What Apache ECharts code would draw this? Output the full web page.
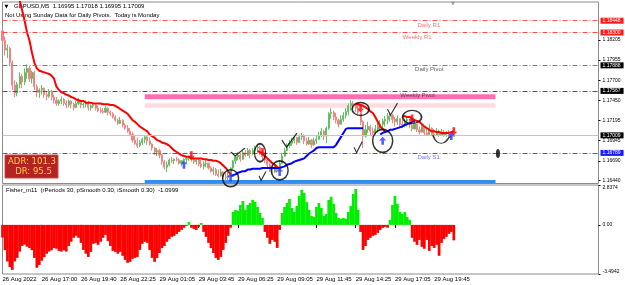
<!DOCTYPE html>
<html><head><meta charset="utf-8">
<script src="https://cdn.jsdelivr.net/npm/echarts@6/dist/echarts.min.js"></script>
<style>html,body{margin:0;padding:0;background:#fff}#c{width:625px;height:285px}</style>
</head><body><div id="c"></div>
<script>
// ---------------- DATA ----------------
const tickLabels = ["26 Aug 2022","26 Aug 17:00","26 Aug 19:40","28 Aug 22:25","29 Aug 01:05","29 Aug 03:45","29 Aug 06:25","29 Aug 09:05","29 Aug 11:45","29 Aug 14:25","29 Aug 17:05","29 Aug 19:45"];
const barsPerTick = 16;
const slotCount = 244;
const categories = Array.from({length: slotCount}, (_, i) => i);
const symbolName = "GBPUSD,M5";
const ohlcNow = [1.16995, 1.17018, 1.16995, 1.17009];
const pivotNote = "Not Using Sunday Data for Daily Pivots.  Today is Monday";
const fisherName = "Fisher_m11  (rPeriods 30, pSmooth 0.30, iSmooth 0.30)";
const fisherLast = -1.0999;
const adrValue = 101.3;
const drValue = 95.5;

// [open, close, low, high]
const candles = [
[1.1832,1.1820,1.1815,1.1835],[1.1820,1.1808,1.1801,1.1825],[1.1808,1.1810,1.1798,1.1815],[1.1810,1.1792,1.1788,1.1812],[1.1792,1.1764,1.1758,1.1795],
[1.1764,1.1754,1.1749,1.1770],[1.1754,1.1765,1.1750,1.1768],[1.1765,1.1775,1.1760,1.1780],[1.1775,1.1768,1.1760,1.1778],[1.1768,1.1780,1.1764,1.1785],
[1.1780,1.1785,1.1772,1.1790],[1.1785,1.1772,1.1768,1.1788],[1.1772,1.1780,1.1766,1.1782],[1.1780,1.1762,1.1758,1.1782],[1.1762,1.1755,1.1749,1.1765],
[1.1755,1.1758,1.1748,1.1760],[1.1758,1.1760,1.1752,1.1764],[1.1760,1.1752,1.1748,1.1761],[1.1752,1.1750,1.1745,1.1756],[1.1750,1.1756,1.1748,1.1759],
[1.1756,1.1749,1.1745,1.1758],[1.1749,1.1745,1.1741,1.1752],[1.1745,1.1741,1.1738,1.1749],[1.1741,1.1744,1.1738,1.1746],[1.1744,1.1746,1.1740,1.1750],
[1.1746,1.1741,1.1738,1.1748],[1.1741,1.1739,1.1735,1.1745],[1.1739,1.1744,1.1736,1.1746],[1.1744,1.1740,1.1735,1.1745],[1.1740,1.1736,1.1732,1.1742],
[1.1736,1.1741,1.1735,1.1744],[1.1741,1.1744,1.1739,1.1748],[1.1744,1.1739,1.1735,1.1745],[1.1739,1.1740,1.1735,1.1742],[1.1740,1.1742,1.1736,1.1745],
[1.1742,1.1736,1.1732,1.1744],[1.1736,1.1738,1.1732,1.1740],[1.1738,1.1739,1.1735,1.1741],[1.1739,1.1735,1.1732,1.1740],[1.1735,1.1732,1.1730,1.1738],
[1.1732,1.1731,1.1729,1.1736],[1.1731,1.1730,1.1728,1.1735],[1.1730,1.1735,1.1729,1.1738],[1.1735,1.1730,1.1726,1.1736],[1.1730,1.1728,1.1725,1.1732],
[1.1728,1.1724,1.1722,1.1730],[1.1724,1.1720,1.1718,1.1726],[1.1720,1.1716,1.1714,1.1722],[1.1716,1.1720,1.1715,1.1724],[1.1720,1.1714,1.1711,1.1721],
[1.1714,1.1710,1.1708,1.1716],[1.1710,1.1706,1.1704,1.1714],[1.1706,1.1702,1.1700,1.1710],[1.1702,1.1695,1.1692,1.1705],[1.1695,1.1691,1.1689,1.1701],
[1.1691,1.1688,1.1685,1.1698],[1.1688,1.1692,1.1686,1.1695],[1.1692,1.1696,1.1689,1.1698],[1.1696,1.1699,1.1691,1.1700],[1.1699,1.1694,1.1689,1.1700],
[1.1694,1.1690,1.1688,1.1698],[1.1690,1.1685,1.1682,1.1691],[1.1685,1.1680,1.1676,1.1686],[1.1680,1.1682,1.1675,1.1685],[1.1682,1.1676,1.1672,1.1684],
[1.1676,1.1668,1.1664,1.1678],[1.1668,1.1661,1.1658,1.1670],[1.1661,1.1664,1.1655,1.1668],[1.1664,1.1670,1.1662,1.1672],[1.1670,1.1669,1.1666,1.1674],
[1.1669,1.1671,1.1665,1.1672],[1.1671,1.1670,1.1668,1.1674],[1.1670,1.1666,1.1664,1.1672],[1.1666,1.1669,1.1662,1.1670],[1.1669,1.1671,1.1665,1.1672],
[1.1671,1.1672,1.1666,1.1674],[1.1672,1.1674,1.1669,1.1675],[1.1674,1.1670,1.1668,1.1676],[1.1670,1.1668,1.1665,1.1674],[1.1668,1.1670,1.1664,1.1672],
[1.1670,1.1665,1.1662,1.1672],[1.1665,1.1662,1.1660,1.1670],[1.1662,1.1665,1.1658,1.1668],[1.1665,1.1666,1.1661,1.1670],[1.1666,1.1660,1.1658,1.1666],
[1.1660,1.1656,1.1654,1.1662],[1.1656,1.1658,1.1651,1.1661],[1.1658,1.1652,1.1650,1.1660],[1.1652,1.1650,1.1648,1.1658],[1.1650,1.1655,1.1649,1.1659],
[1.1655,1.1649,1.1646,1.1656],[1.1649,1.1648,1.1644,1.1654],[1.1648,1.1651,1.1645,1.1655],[1.1651,1.1660,1.1650,1.1661],[1.1660,1.1669,1.1658,1.1670],
[1.1669,1.1674,1.1665,1.1676],[1.1674,1.1676,1.1670,1.1680],[1.1676,1.1671,1.1668,1.1678],[1.1671,1.1679,1.1670,1.1682],[1.1679,1.1676,1.1674,1.1682],
[1.1676,1.1682,1.1675,1.1685],[1.1682,1.1678,1.1672,1.1684],[1.1678,1.1682,1.1676,1.1685],[1.1682,1.1685,1.1678,1.1688],[1.1685,1.1686,1.1680,1.1689],
[1.1686,1.1680,1.1676,1.1688],[1.1680,1.1674,1.1670,1.1682],[1.1674,1.1670,1.1666,1.1676],[1.1670,1.1664,1.1661,1.1672],[1.1664,1.1659,1.1655,1.1666],
[1.1659,1.1655,1.1651,1.1662],[1.1655,1.1662,1.1654,1.1666],[1.1662,1.1658,1.1654,1.1664],[1.1658,1.1666,1.1656,1.1670],[1.1666,1.1675,1.1665,1.1679],
[1.1675,1.1682,1.1674,1.1685],[1.1682,1.1688,1.1681,1.1691],[1.1688,1.1691,1.1685,1.1695],[1.1691,1.1694,1.1688,1.1698],[1.1694,1.1698,1.1691,1.1701],
[1.1698,1.1692,1.1689,1.1699],[1.1692,1.1699,1.1691,1.1702],[1.1699,1.1701,1.1695,1.1704],[1.1701,1.1694,1.1690,1.1702],[1.1694,1.1690,1.1688,1.1698],
[1.1690,1.1695,1.1689,1.1699],[1.1695,1.1689,1.1685,1.1696],[1.1689,1.1694,1.1688,1.1698],[1.1694,1.1696,1.1690,1.1700],[1.1696,1.1701,1.1695,1.1705],
[1.1701,1.1706,1.1699,1.1710],[1.1706,1.1700,1.1695,1.1708],[1.1700,1.1710,1.1691,1.1712],[1.1710,1.1728,1.1708,1.1730],[1.1728,1.1730,1.1722,1.1735],
[1.1730,1.1724,1.1720,1.1732],[1.1724,1.1720,1.1716,1.1729],[1.1720,1.1715,1.1711,1.1722],[1.1715,1.1721,1.1714,1.1726],[1.1721,1.1726,1.1718,1.1730],
[1.1726,1.1731,1.1722,1.1735],[1.1731,1.1738,1.1726,1.1741],[1.1738,1.1741,1.1732,1.1745],[1.1741,1.1739,1.1734,1.1744],[1.1739,1.1735,1.1730,1.1741],
[1.1735,1.1730,1.1726,1.1739],[1.1730,1.1718,1.1714,1.1732],[1.1718,1.1700,1.1685,1.1720],[1.1700,1.1708,1.1698,1.1714],[1.1708,1.1712,1.1704,1.1718],
[1.1712,1.1706,1.1701,1.1714],[1.1706,1.1704,1.1699,1.1711],[1.1704,1.1709,1.1702,1.1714],[1.1709,1.1712,1.1705,1.1718],[1.1712,1.1715,1.1708,1.1720],
[1.1715,1.1719,1.1710,1.1722],[1.1719,1.1721,1.1712,1.1725],[1.1721,1.1725,1.1715,1.1729],[1.1725,1.1726,1.1718,1.1730],[1.1726,1.1721,1.1716,1.1728],
[1.1721,1.1718,1.1712,1.1724],[1.1718,1.1722,1.1714,1.1726],[1.1722,1.1715,1.1711,1.1722],[1.1715,1.1714,1.1710,1.1720],[1.1714,1.1719,1.1711,1.1722],
[1.1719,1.1721,1.1712,1.1725],[1.1721,1.1714,1.1710,1.1721],[1.1714,1.1709,1.1706,1.1718],[1.1709,1.1715,1.1708,1.1720],[1.1715,1.1708,1.1705,1.1715],
[1.1708,1.1705,1.1702,1.1712],[1.1705,1.1712,1.1704,1.1716],[1.1712,1.1704,1.1701,1.1712],[1.1704,1.1702,1.1700,1.1710],[1.1702,1.1710,1.1701,1.1715],
[1.1710,1.1702,1.1700,1.1711],[1.1702,1.1701,1.1699,1.1709],[1.1701,1.1706,1.1700,1.1710],[1.1706,1.1701,1.1699,1.1708],[1.1701,1.1705,1.1700,1.1709],
[1.1705,1.1701,1.1699,1.1708],[1.1701,1.1702,1.1699,1.1706],[1.1702,1.1700,1.1699,1.1708],[1.1700,1.16995,1.1698,1.1703],[1.16995,1.17009,1.16995,1.17018]
];

// trend line, red (falling) and blue (rising) parts: [barIndex, price]
const redLine = [
[6,1.1885],[7,1.1870],[8,1.1858],[9,1.1845],[10,1.1830],[11,1.1820],[12,1.1805],[13,1.1792],[14,1.1785],[15,1.1782],
[16,1.1781],[17,1.1780],[18,1.1779],[19,1.1778],[20,1.1776],[21,1.1772],[22,1.1762],[23,1.1758],[24,1.1755],[25,1.1754],
[26,1.1752],[27,1.1751],[28,1.1749],[29,1.1748],[30,1.1746],[31,1.1745],[32,1.1744],[33,1.1744],[34,1.1742],[35,1.1742],
[36,1.1742],[37,1.1741],[38,1.1741],[39,1.1741],[40,1.1741],[41,1.1740],[42,1.1740],[43,1.1740],[44,1.1739],[45,1.1739],
[46,1.1738],[47,1.1736],[48,1.1734],[49,1.1732],[50,1.1730],[51,1.1728],[52,1.1724],[53,1.1720],[54,1.1718],[55,1.1715],
[56,1.1712],[57,1.1710],[58,1.1708],[59,1.1706],[60,1.1702],[61,1.1700],[62,1.1698],[63,1.1695],[64,1.1694],[65,1.1692],
[66,1.1691],[67,1.1690],[68,1.1688],[69,1.1685],[70,1.1682],[71,1.1680],[72,1.1678],[73,1.1676],[74,1.1675],[75,1.1674],
[76,1.1674],[77,1.1672],[78,1.1672],[79,1.1672],[80,1.1672],[81,1.1672],[82,1.1671],[83,1.1671],[84,1.1670],[85,1.1670],
[86,1.1669],[87,1.1669],[88,1.1668],[89,1.1666],[90,1.1663],[91,1.1660],[92,1.1656],[93,1.1652],[94,null],
[104,1.1681],[105,1.1680],[106,1.1678],[107,1.1675],[108,1.1672],[109,1.1669],[110,1.1666],[111,1.1664],[112,1.1661],[113,1.1660],[114,null],
[144,1.1740],[145,1.1740],[146,1.1739],[147,1.1738],[148,1.1736],[149,1.1734],[150,1.1731],[151,1.1729],[152,1.1724],[153,1.1718],
[154,1.1712],[155,1.1709],[156,1.1705],[157,null],
[163,1.1725],[164,1.1725],[165,1.1724],[166,1.1724],[167,1.1722],[168,1.1720],[169,1.1719],[170,1.1718],[171,1.1715],[172,1.1712],
[173,1.1710],[174,1.1708],[175,1.1706],[176,1.1706],[177,1.1705],[178,1.1705],[179,1.1704],[180,1.1704],[181,1.1704],[182,1.1704],
[183,1.1705],[184,1.1706]
];
const blueLine = [
[93,1.1650],[94,1.1651],[95,1.1652],[96,1.1654],[97,1.1655],[98,1.1656],[99,1.1656],[100,1.1658],[101,1.1658],[102,1.1659],
[103,1.1659],[104,1.1659],[105,1.1659],[106,1.1660],[107,1.1660],[108,1.1660],[109,1.1660],[110,1.1660],[111,1.1660],[112,1.1660],
[113,1.1660],[114,1.1661],[115,1.1662],[116,1.1664],[117,1.1665],[118,1.1666],[119,1.1668],[120,1.1669],[121,1.1670],[122,1.1671],
[123,1.1672],[124,1.1675],[125,1.1678],[126,1.1680],[127,1.1682],[128,1.1685],[129,1.1686],[130,1.1686],[131,1.1686],[132,1.1686],
[133,1.1686],[134,1.1686],[135,1.1686],[136,1.1689],[137,1.1694],[138,1.1699],[139,1.1704],[140,1.1709],[141,1.1710],[142,1.1710],
[143,1.1710],[144,1.1710],[145,1.1710],[146,1.1710],[147,1.1710],[148,null],
[154,1.1702],[155,1.1704],[156,1.1705],[157,1.1706],[158,1.1708],[159,1.1708],[160,1.1709],[161,1.1710],[162,1.1711],[163,1.1712],
[164,1.1714],[165,1.1715],[166,1.1716],[167,1.1718],[168,1.1719]
];

const fisher = [
-0.9,-1.8,-2.6,-3.0,-3.2,-2.6,-2.35,-1.9,-1.5,-1.4,
-1.55,-1.65,-1.8,-2.35,-3.05,-2.85,-2.55,-2.3,-2.05,-1.9,
-1.8,-1.65,-1.7,-1.85,-1.9,-1.8,-1.9,-1.5,-1.2,-0.92,
-0.78,-0.92,-1.28,-1.78,-2.05,-2.28,-1.92,-1.35,-1.28,-1.42,
-1.2,-0.92,-0.71,-1.14,-1.5,-1.85,-1.92,-2.05,-1.92,-2.2,
-2.49,-2.7,-2.63,-2.42,-2.35,-2.28,-1.78,-1.35,-1.2,-1.28,
-1.78,-2.35,-2.63,-2.35,-2.0,-1.65,-1.5,-1.2,-1.0,-0.85,
-0.78,-0.64,-0.5,-0.36,-0.2,-0.07,0.2,-0.2,-0.28,-0.36,
-0.14,0.14,-0.5,-0.85,-1.28,-1.65,-2.0,-2.35,-2.49,-2.28,
-1.78,-1.28,-0.78,-0.2,0.92,1.07,1.0,1.42,1.7,1.07,
1.42,1.56,1.78,1.64,1.28,0.85,0.5,-0.5,-0.92,-1.35,
-1.07,-1.2,-1.64,-0.36,0.85,1.28,1.56,1.85,1.2,0.92,
1.35,2.06,2.49,2.28,1.64,1.07,0.64,0.57,1.28,1.56,
1.2,0.64,0.78,1.78,2.0,1.5,0.85,0.5,0.43,0.5,
0.43,0.92,1.35,2.2,2.56,1.07,-0.5,-1.78,-1.5,-1.07,
-0.92,-0.78,-0.71,-0.57,-0.36,-0.21,-0.14,-0.2,0.36,1.42,
2.06,1.5,0.92,0.78,0.92,0.57,0.36,-0.92,-1.2,-1.42,
-1.07,-1.56,-1.7,-1.07,-1.85,-1.5,-1.64,-1.42,-2.2,-1.28,
-1.0,-0.85,-0.64,-0.5,-1.0999
];

const upArrows = [[74,1.1664],[93,1.1648],[113,1.1655],[155,1.1694],[183,1.1700]];
const downArrows = [[77,1.1676],[106,1.1680],[146,1.1735],[167,1.1722],[184,1.1706]];
const circleMarks = [[93,1.1647],[105,1.1679],[113,1.1657],[146,1.1734],[155,1.1694],[167,1.1724]];
const checkMarks = [[96,1.1680],[106,1.1650],[117,1.1695],[145,1.1686],[159,1.1734],[179,1.1696]];
const dotMark = [[202,1.1678]];

const levelNames = ["Daily R1","Weekly R1","Daily Pivot","Weekly Pivot","Daily S1"];
const levelValues = [1.18448, 1.18300, 1.17888, 1.17567, 1.16789];
const levelLabelAt = [169, 163, 168, 162, 169];
const currentPrice = 1.17009;
const zoneFrom = 58, zoneTo = 201;
const zoneBands = [[1.17525, 1.17463], [1.17413, 1.17356], [1.16450, 1.16405]];
const priceTicks = [1.18205, 1.17955, 1.17700, 1.17450, 1.17195, 1.16945, 1.16690, 1.16440];
const fisherTicks = [-3.4942, 0, 2.8374];
const priceMin = 1.16405, priceMax = 1.18683;

// ---------------- STYLE / OPTION ----------------
const FONT = 'Liberation Sans, Arial, sans-serif';
const levelLineColors = ['#ff5a5a', '#ff4a4a', '#808080', '#555555', '#4d4dff'];
const levelTextColors = ['#ff4d4d', '#ff4d4d', '#333333', '#333333', '#4d4dff'];
const levelBoxColors = ['#ff1a1a', '#ff1a1a', '#000000', '#000000', '#1a1aff'];
const zoneColors = ['#ff6eb4', '#ffdce0', '#2e8ff0'];
const circleSizes = [[16,17],[11,18],[17,19],[17,13],[20,23],[19,13]];
const checkSizes = [[14,8],[7,9],[15,14],[8,11],[10,12],[17,8]];
const checkPath = 'path://M0,5 L3,10 L10,0';
const smilePath = 'path://M0,1 C2,9 8,10 11,6 L14,2';
const upPath = 'path://M4,0 L8,4 L5.5,4 L5.5,9 L2.5,9 L2.5,4 L0,4 Z';
const downPath = 'path://M4,9 L8,5 L5.5,5 L5.5,0 L2.5,0 L2.5,5 L0,5 Z';
const showTick = (i) => i % barsPerTick === 0 && i / barsPerTick < tickLabels.length;

function boxLabel(text, bg) {
  return {show: true, position: 'end', distance: 2, formatter: text, color: '#fff',
          backgroundColor: bg, padding: [1, 3, 0, 2], fontSize: 5, fontFamily: FONT};
}
const markLines = levelValues.map((v, k) => ({
  name: levelNames[k],
  yAxis: v,
  lineStyle: {color: levelLineColors[k], type: [5, 2, 1, 2], width: 1},
  label: boxLabel(v.toFixed(5), levelBoxColors[k])
}));
markLines.push({
  name: 'price',
  yAxis: currentPrice,
  lineStyle: {color: '#c4c4c4', type: 'solid', width: 1},
  label: boxLabel(currentPrice.toFixed(5), '#000')
});

const markAreas = zoneBands.map((b, k) => [
  {xAxis: zoneFrom, yAxis: b[0], itemStyle: {color: zoneColors[k], opacity: 1}},
  {xAxis: zoneTo, yAxis: b[1]}
]);

const chart = echarts.init(document.getElementById('c'), null, {renderer: 'canvas', width: 625, height: 285});
const option = {
  animation: false,
  backgroundColor: '#ffffff',
  grid: [
    {left: 2.5, right: 26.5, top: 2, height: 181.5, show: true, borderColor: '#8c8c8c', borderWidth: 1, containLabel: false, outerBoundsMode: 'none'},
    {left: 2.5, right: 26.5, top: 185, height: 89, show: true, borderColor: '#8c8c8c', borderWidth: 1, containLabel: false, outerBoundsMode: 'none'}
  ],
  xAxis: [
    {type: 'category', gridIndex: 0, data: categories, boundaryGap: false,
     axisLine: {show: false}, axisTick: {show: false}, axisLabel: {show: false}, splitLine: {show: false}},
    {type: 'category', gridIndex: 1, data: categories, boundaryGap: false,
     axisLine: {show: false},
     axisTick: {show: true, interval: showTick, length: 3, lineStyle: {color: '#000'}},
     axisLabel: {show: true, interval: showTick, formatter: (v, i) => tickLabels[i / barsPerTick] || '',
                 align: 'left', fontSize: 6, fontFamily: FONT, color: '#000', margin: 2},
     splitLine: {show: false}}
  ],
  yAxis: [
    {type: 'value', gridIndex: 0, position: 'right', min: priceMin, max: priceMax,
     splitLine: {show: false}, axisLine: {show: false},
     axisTick: {show: true, customValues: priceTicks, length: 2, lineStyle: {color: '#000'}},
     axisLabel: {show: true, customValues: priceTicks, formatter: v => v.toFixed(5), fontSize: 5,
                 fontFamily: FONT, color: '#000', margin: 4}},
    {type: 'value', gridIndex: 1, position: 'right', min: fisherTicks[0], max: fisherTicks[2],
     splitLine: {show: false}, axisLine: {show: false},
     axisTick: {show: true, customValues: fisherTicks, length: 2, lineStyle: {color: '#000'}},
     axisLabel: {show: true, customValues: fisherTicks, formatter: v => v === 0 ? '0.00' : v.toFixed(4),
                 fontSize: 5, fontFamily: FONT, color: '#000', margin: 4,
                 verticalAlignMinLabel: 'bottom', verticalAlignMaxLabel: 'top'}}
  ],
  series: [
    {type: 'candlestick', xAxisIndex: 0, yAxisIndex: 0, data: candles, barWidth: 1.6,
     itemStyle: {color: '#62c062', color0: '#f08484', borderColor: '#62c062', borderColor0: '#f08484', borderWidth: 1},
     markArea: {silent: true, data: markAreas}, z: 3},
    {type: 'line', xAxisIndex: 0, yAxisIndex: 0, data: redLine, symbol: 'none', connectNulls: false,
     lineStyle: {color: '#ff0000', width: 2}, z: 4},
    {type: 'line', xAxisIndex: 0, yAxisIndex: 0, data: blueLine, symbol: 'none', connectNulls: false,
     lineStyle: {color: '#0000ff', width: 2}, z: 4},
    {type: 'scatter', xAxisIndex: 0, yAxisIndex: 0, data: upArrows, symbol: upPath, symbolSize: [7, 8],
     itemStyle: {color: '#1f3cff'}, z: 6},
    {type: 'scatter', xAxisIndex: 0, yAxisIndex: 0, data: downArrows, symbol: downPath, symbolSize: [7, 8],
     itemStyle: {color: '#ff0000'}, z: 6},
    {type: 'scatter', xAxisIndex: 0, yAxisIndex: 0, data: circleMarks, symbol: 'circle',
     symbolSize: (v, p) => circleSizes[p.dataIndex],
     itemStyle: {color: 'rgba(0,0,0,0)', borderColor: '#000', borderWidth: 1.5}, z: 7},
    {type: 'scatter', xAxisIndex: 0, yAxisIndex: 0, data: checkMarks,
     symbol: (v, p) => p.dataIndex === checkMarks.length - 1 ? smilePath : checkPath,
     symbolSize: (v, p) => checkSizes[p.dataIndex],
     itemStyle: {color: 'rgba(0,0,0,0)', borderColor: '#000', borderWidth: 1.2}, z: 7},
    {type: 'scatter', xAxisIndex: 0, yAxisIndex: 0, data: dotMark, symbol: 'circle', symbolSize: [4, 9],
     itemStyle: {color: '#000'}, z: 7},
    {type: 'scatter', xAxisIndex: 0, yAxisIndex: 0, symbolSize: 1, itemStyle: {color: 'rgba(0,0,0,0)'},
     data: levelValues.map((v, k) => ({value: [levelLabelAt[k], v], label: {color: levelTextColors[k]}})),
     label: {show: true, position: 'right', distance: 0, offset: [0, 4.5], fontSize: 6, fontFamily: FONT,
             formatter: p => levelNames[p.dataIndex]},
     markLine: {silent: true, symbol: ['none', 'none'], animation: false, precision: 5, data: markLines},
     z: 8},
    {type: 'bar', xAxisIndex: 1, yAxisIndex: 1, data: fisher, barWidth: 2.7,
     itemStyle: {color: p => p.value >= 0 ? '#00ee00' : '#ff0000'}}
  ],
  graphic: [
    {type: 'text', x: 4.5, y: 6.7, style: {text: '\u25BC', fontSize: 5, fontFamily: 'DejaVu Sans', fill: '#000', verticalAlign: 'middle', textVerticalAlign: 'middle'}},
    {type: 'text', x: 14, y: 6.7, style: {text: symbolName + '  ' + ohlcNow.map(v => v.toFixed(5)).join(' '), fontSize: 6, fontFamily: FONT, fill: '#000', verticalAlign: 'middle', textVerticalAlign: 'middle'}},
    {type: 'text', x: 5, y: 15, style: {text: pivotNote, fontSize: 6, fontFamily: FONT, fill: '#000', verticalAlign: 'middle', textVerticalAlign: 'middle'}},
    {type: 'text', x: 453, y: 3.5, style: {text: '\u25BC', fontSize: 5, fontFamily: 'DejaVu Sans', fill: '#999', align: 'center', textAlign: 'center', verticalAlign: 'middle', textVerticalAlign: 'middle'}},
    {type: 'text', x: 6, y: 190, style: {text: fisherName + '  ' + fisherLast.toFixed(4), fontSize: 6, fontFamily: FONT, fill: '#000', verticalAlign: 'middle', textVerticalAlign: 'middle'}},
    {type: 'rect', shape: {x: 5, y: 155, width: 53, height: 23}, style: {fill: '#b3231f', stroke: '#cf4a4a', lineWidth: 1}},
    {type: 'text', x: 32, y: 161.5, style: {text: 'ADR: ' + adrValue.toFixed(1), fontSize: 8.5, fontFamily: 'DejaVu Sans', fill: '#ffd24d', align: 'center', textAlign: 'center', verticalAlign: 'middle', textVerticalAlign: 'middle'}},
    {type: 'text', x: 33.5, y: 172, style: {text: 'DR: ' + drValue.toFixed(1), fontSize: 8.5, fontFamily: 'DejaVu Sans', fill: '#ffd24d', align: 'center', textAlign: 'center', verticalAlign: 'middle', textVerticalAlign: 'middle'}}
  ]
};
chart.setOption(option);
</script>
</body></html>
